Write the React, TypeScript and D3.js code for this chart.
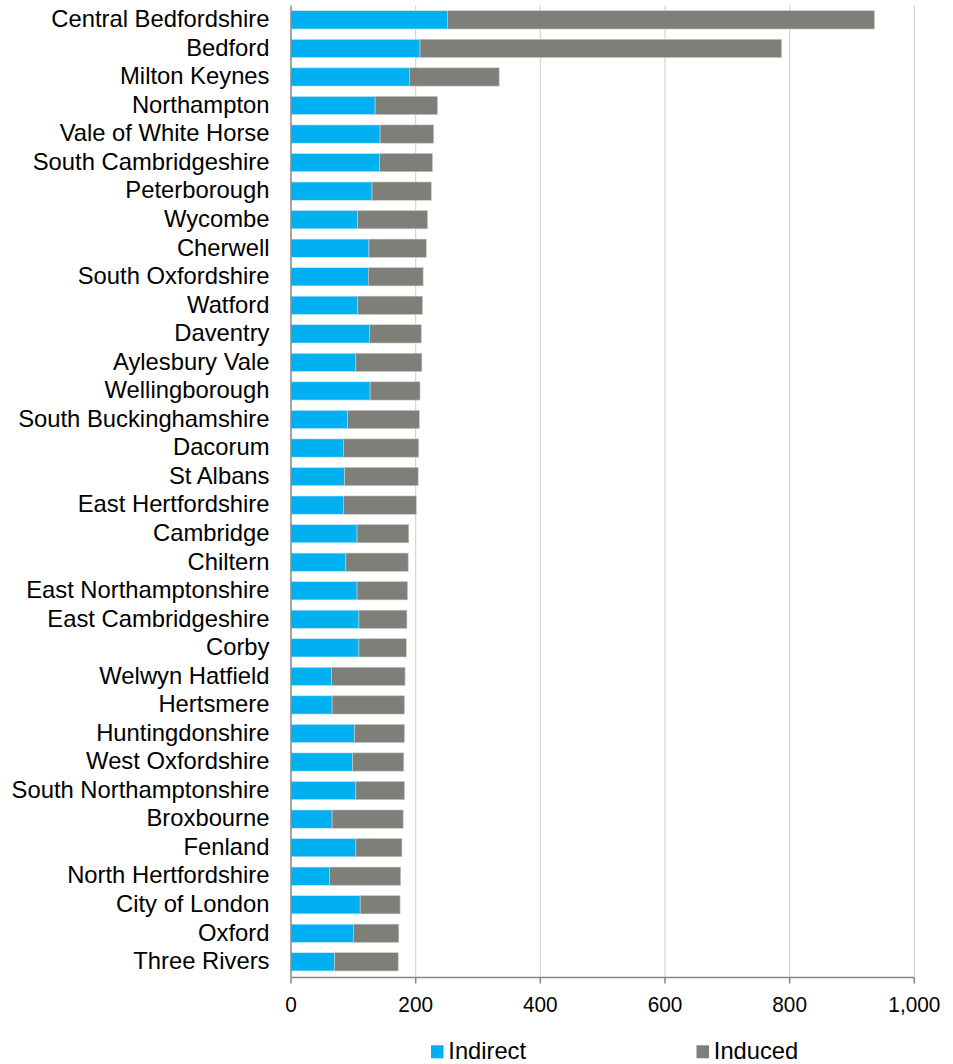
import React from "react";
import * as d3 from "d3";

const categories = [
  "Central Bedfordshire", "Bedford", "Milton Keynes", "Northampton", "Vale of White Horse",
  "South Cambridgeshire", "Peterborough", "Wycombe", "Cherwell", "South Oxfordshire",
  "Watford", "Daventry", "Aylesbury Vale", "Wellingborough", "South Buckinghamshire",
  "Dacorum", "St Albans", "East Hertfordshire", "Cambridge", "Chiltern",
  "East Northamptonshire", "East Cambridgeshire", "Corby", "Welwyn Hatfield", "Hertsmere",
  "Huntingdonshire", "West Oxfordshire", "South Northamptonshire", "Broxbourne", "Fenland",
  "North Hertfordshire", "City of London", "Oxford", "Three Rivers",
];

const indirect = [
  251, 207, 190, 135, 143, 142, 130, 107, 125, 124,
  107, 126, 104, 127, 91, 84, 86, 84, 106, 88,
  106, 109, 109, 65, 66, 102, 99, 104, 66, 104,
  62, 111, 100, 70,
];

const induced = [
  685, 580, 144, 100, 86, 85, 95, 112, 92, 88,
  104, 83, 106, 80, 115, 121, 118, 117, 83, 100,
  81, 77, 76, 118, 116, 80, 82, 78, 114, 74,
  114, 64, 73, 102,
];

const xTicks = [0, 200, 400, 600, 800, 1000];
const seriesNames = ["Indirect", "Induced"];
const colors = ["#00B0F0", "#7F7F7A"];

export default function App() {
  const width = 953;
  const height = 1064;
  const x = d3.scaleLinear().domain([0, 1000]).range([291, 914.3]);
  const y = d3.scaleBand<string>().domain(categories).range([5.6, 976.1]).paddingInner(0.36).paddingOuter(0.18);
  const rows = categories.map((c, i) => ({ c, a: indirect[i], b: induced[i] }));
  const fmt = d3.format(",");
  const font = "'Liberation Sans', Arial, sans-serif";
  const axisY = 977.5;

  return (
    <svg width={width} height={height} style={{ position: "absolute", left: 0, top: 0 }} fontFamily={font}>
      <rect width={width} height={height} fill="#fff" />
      {xTicks.slice(1).map((t) => (
        <line key={t} x1={x(t)} x2={x(t)} y1={5.6} y2={axisY} stroke="#D4D4D4" strokeWidth={1.2} />
      ))}
      {rows.map((r) => {
        const yy = y(r.c)!;
        const h = y.bandwidth();
        return (
          <g key={r.c}>
            <rect x={x(0)} y={yy} width={x(r.a) - x(0)} height={h} fill={colors[0]} stroke="#cfe9f5" strokeWidth={0.6} />
            <rect x={x(r.a)} y={yy} width={x(r.a + r.b) - x(r.a)} height={h} fill={colors[1]} stroke="#c8c8c5" strokeWidth={0.6} />
            <text x={269.5} y={yy + h / 2 + 7.3} textAnchor="end" fontSize={23.8} fill="#000">
              {r.c}
            </text>
          </g>
        );
      })}
      <line x1={x(0)} x2={x(0)} y1={5.6} y2={axisY} stroke="#868686" strokeWidth={1.5} />
      <line x1={x(0)} x2={x(1000)} y1={axisY} y2={axisY} stroke="#868686" strokeWidth={1.5} />
      {xTicks.map((t) => (
        <g key={t}>
          <line x1={x(t)} x2={x(t)} y1={axisY} y2={axisY + 6} stroke="#868686" strokeWidth={1.5} />
          <text transform={`translate(${x(t)},1012.3) scale(0.91,1)`} textAnchor="middle" fontSize={22.8} fill="#000">
            {fmt(t)}
          </text>
        </g>
      ))}
      {seriesNames.map((s, i) => {
        const lx = i === 0 ? 431 : 696.5;
        return (
          <g key={s}>
            <rect x={lx} y={1045.3} width={12.5} height={13} fill={colors[i]} />
            <text x={lx + 17.3} y={1059} fontSize={23.7} fill="#000">
              {s}
            </text>
          </g>
        );
      })}
    </svg>
  );
}
